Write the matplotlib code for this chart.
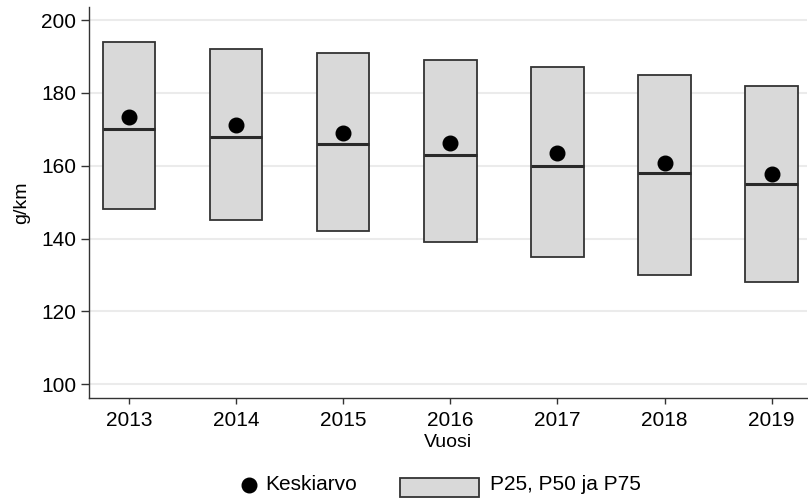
import matplotlib
matplotlib.use("Agg")
import matplotlib.pyplot as plt
from matplotlib.patches import Rectangle
from matplotlib.lines import Line2D
import numpy as np

years = [2013, 2014, 2015, 2016, 2017, 2018, 2019]
p25 = [148, 145, 142, 139, 135, 130, 128]
p50 = [170, 168, 166, 163, 160, 158, 155]
p75 = [194, 192, 191, 189, 187, 185, 182]
mean = [173.4, 171.2, 169.0, 166.2, 163.6, 160.7, 157.8]
yticks = [100, 120, 140, 160, 180, 200]

plt.rcParams['font.family'] = ['Liberation Sans', 'DejaVu Sans']

fig = plt.figure(figsize=(8.08, 5.01), dpi=100)
ax = fig.add_axes([89/808, 1-398/501, (807-89)/808, (398-7)/501])

x = np.array(years, dtype=float)
lo = np.array(p25); hi = np.array(p75)
w = 0.49
ax.bar(x, hi - lo, bottom=lo, width=w, color='#d9d9d9', edgecolor='#333333',
       linewidth=1.3, zorder=2)
ax.hlines(p50, x - w/2, x + w/2, colors='#2a2a2a', linewidth=2.2, zorder=3)
ax.plot(x, mean, 'o', color='black', markersize=10.5, zorder=4)

ax.set_xlim(2012.627, 2019.33)
ax.set_ylim(96.2, 203.6)
ax.set_yticks(yticks)
ax.set_xticks(years)
ax.grid(axis='y', color='#ebebeb', linewidth=1.5, zorder=0)
ax.set_axisbelow(True)
for s in ['top', 'right']:
    ax.spines[s].set_visible(False)
for s in ['left', 'bottom']:
    ax.spines[s].set_color('#333333')
    ax.spines[s].set_linewidth(1.0)
ax.tick_params(axis='y', length=6, width=1, color='#333333', labelsize=15, pad=3)
ax.tick_params(axis='x', length=4, width=1, color='#333333', labelsize=15, pad=5)
ax.set_ylabel('g/km', fontsize=14, labelpad=8)
ax.set_xlabel('Vuosi', fontsize=14, labelpad=3)

# legend drawn manually
fig.add_artist(Line2D([249/808], [1-485/501], marker='o', color='black',
                      markersize=10.5, linestyle='none', transform=fig.transFigure))
fig.text(265/808, 1-485/501, 'Keskiarvo', fontsize=15, va='center', ha='left')
fig.add_artist(Rectangle((400/808, 1-497/501), 79/808, 19/501, transform=fig.transFigure,
                         facecolor='#d9d9d9', edgecolor='#333333', linewidth=1.3))
fig.text(490/808, 1-485/501, 'P25, P50 ja P75', fontsize=15, va='center', ha='left')

fig.savefig('out.png', dpi=100)
